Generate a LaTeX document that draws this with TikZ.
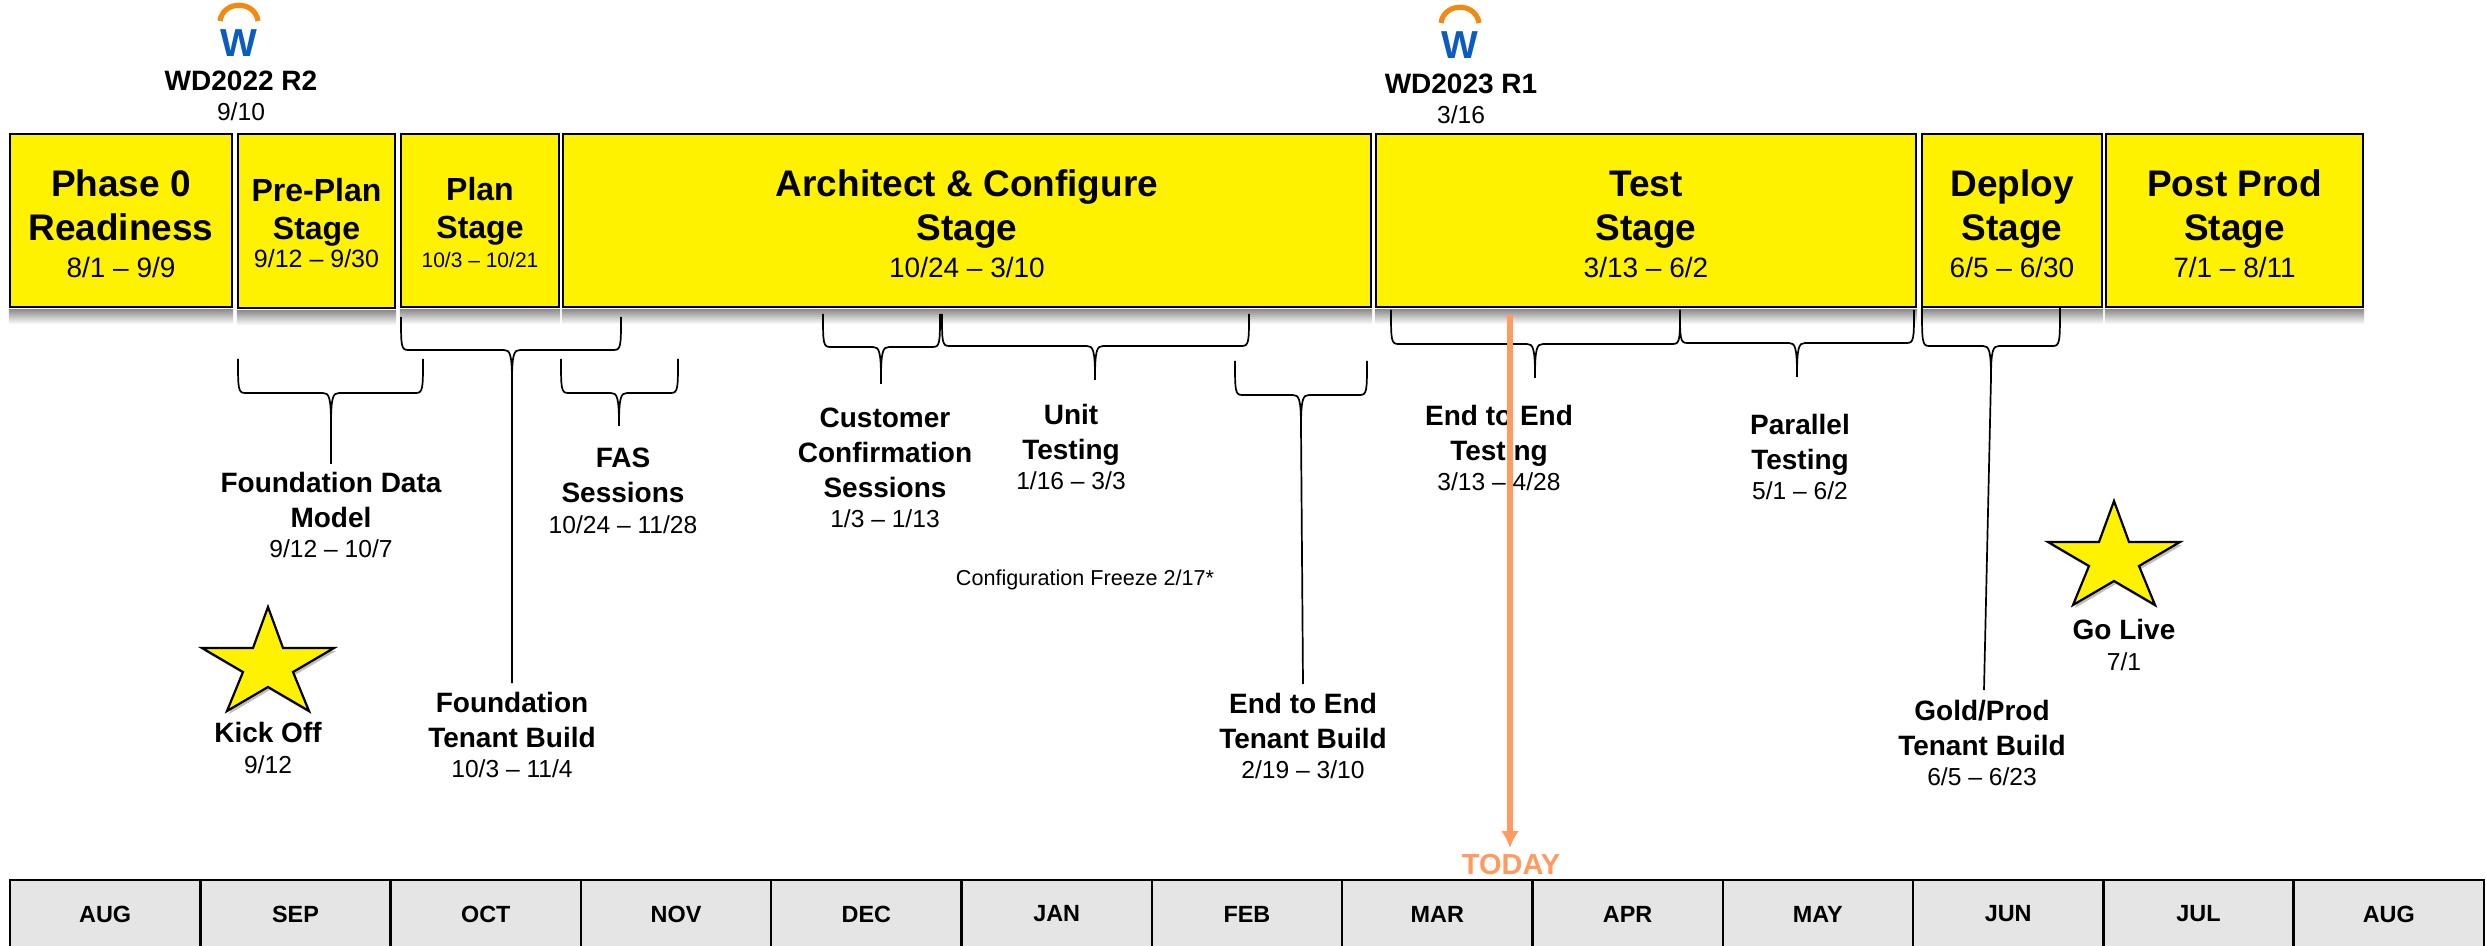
\documentclass[tikz,border=0pt]{standalone}
\usepackage{fontspec}
\setmainfont{Liberation Sans}
\usetikzlibrary{shadows,arrows.meta}
\definecolor{stageyellow}{HTML}{FFF200}
\definecolor{todayorange}{HTML}{FF9A60}
\definecolor{wdblue}{HTML}{0A5CBE}
\definecolor{wdorange}{HTML}{F18A12}
\newcommand{\datetext}[1]{\\[-2.3pt]{\fontsize{12.3}{14}\selectfont\mdseries #1}}
\newcommand{\stagedate}[3][-3.8pt]{\\[#1]{\fontsize{#2}{16}\selectfont\mdseries #3}}
\newcommand{\bigtop}{\rule{0pt}{16.5pt}}
\newcommand{\smalltop}{\rule{0pt}{13.5pt}}
\newcommand{\taskbrace}[6]{\draw[bracket] (#1,#3) .. controls (#1,#4-5) and (#1,#4) .. (#1+7,#4) -- (#5-8,#4) .. controls (#5-2,#4) and (#5,#4+4) .. (#5,#4+32) -- (#6) (#5,#4+32) .. controls (#5,#4+4) and (#5+2,#4) .. (#5+8,#4) -- (#2-7,#4) .. controls (#2,#4) and (#2,#4-5) .. (#2,#3);}
\newcommand{\taskstar}[2]{\draw[milestone,shift={(#1,#2)}] (0,0)--(15,41)--(66,41)--(25,65)--(41,104)--(0,80)--(-41,104)--(-25,65)--(-66,41)--(-15,41)--cycle;}
\newcommand{\wdlogo}[3]{\draw[line width=2.6pt,wdorange] (#2-19,#3+15) .. controls (#2-16,#3-6) and (#2+16,#3-6) .. (#2+19,#3+15);
        \node[font=\fontsize{19.5}{22}\selectfont\bfseries,text=wdblue,inner sep=0pt] (#1) at (#2,#3+37) {W};}
\tikzset{
    stagebox/.style 2 args={draw=black,line width=1.2pt,fill=stageyellow,align=center,inner sep=0pt,minimum width=#1*0.5pt,minimum height=#2*0.5pt},
    stagebig/.style={font=\fontsize{18.5}{22.3}\selectfont\bfseries},
    stagesmall/.style={font=\fontsize{16}{19}\selectfont\bfseries},
    stageshadow/.style={top color=black!45,bottom color=white},
    tasklabel/.style={align=center,inner sep=0pt,font=\fontsize{14}{17.5}\selectfont\bfseries},
    monthcell/.style={draw=black,line width=1.2pt,fill=black!10,inner sep=0pt,minimum width=95.15pt,minimum height=34pt,font=\fontsize{11.7}{14}\selectfont\bfseries},
    bracket/.style={line width=0.85pt,black},
    milestone/.style={line width=1.1pt,draw=black,fill=stageyellow,drop shadow={shadow xshift=1pt,shadow yshift=-1.5pt,opacity=0.25,fill=black}}
}
\begin{document}
\begin{tikzpicture}[x=0.5pt,y=-0.5pt]
        \useasboundingbox (0,0) rectangle (2486,946);
        \node[stagebox={222}{173},stagebig] (phase) at (121,220.5) {\bigtop Phase 0\\Readiness\stagedate{14}{8/1 – 9/9}};
        \node[stagebox={157}{174},stagesmall] (preplan) at (316.5,221) {\smalltop Pre-Plan\\Stage\stagedate[-4.8pt]{12.5}{9/12 – 9/30}};
        \node[stagebox={158}{173},stagesmall] (plan) at (480,220.5) {\smalltop Plan\\Stage\stagedate[-4.8pt]{10.5}{10/3 – 10/21}};
        \node[stagebox={808}{173},stagebig] (architect) at (967,220.5) {\bigtop Architect \& Configure\\Stage\stagedate{14}{10/24 – 3/10}};
        \node[stagebox={540}{173},stagebig] (test) at (1646,220.5) {\bigtop Test\\Stage\stagedate{14}{3/13 – 6/2}};
        \node[stagebox={180}{173},stagebig] (deploy) at (2012,220.5) {\bigtop Deploy\\Stage\stagedate{14}{6/5 – 6/30}};
        \node[stagebox={257}{173},stagebig] (postprod) at (2234.5,220.5) {\bigtop Post Prod\\Stage\stagedate{14}{7/1 – 8/11}};
        \foreach \s in {phase,preplan,plan,architect,test,deploy,postprod} {
            \shade[stageshadow] ([yshift=-0.6pt]\s.south west) rectangle ([yshift=-8pt]\s.south east);
        }
        \wdlogo{logoa}{239}{6}
        \wdlogo{logob}{1460}{8}
        \node[tasklabel] (wdtwo) at (241,96) {WD2022 R2\datetext{9/10}};
        \node[tasklabel] (wdone) at (1461,99) {WD2023 R1\datetext{3/16}};
        \node[tasklabel] (fdm) at (331,515) {Foundation Data\\Model\datetext{9/12 – 10/7}};
        \node[tasklabel] (fas) at (623,491) {FAS\\Sessions\datetext{10/24 – 11/28}};
        \node[tasklabel] (customer) at (885,468) {Customer\\Confirmation\\Sessions\datetext{1/3 – 1/13}};
        \node[tasklabel] (unit) at (1071,447) {Unit\\Testing\datetext{1/16 – 3/3}};
        \node[font=\fontsize{10.8}{13}\selectfont,inner sep=0pt] (freeze) at (1085,580) {Configuration Freeze 2/17*};
        \node[tasklabel] (etebuild) at (1303,736) {End to End\\Tenant Build\datetext{2/19 – 3/10}};
        \node[tasklabel] (ftbuild) at (512,735) {Foundation\\Tenant Build\datetext{10/3 – 11/4}};
        \node[tasklabel] (etetest) at (1499,448) {End to End\\Testing\datetext{3/13 – 4/28}};
        \node[tasklabel] (parallel) at (1800,457) {Parallel\\Testing\datetext{5/1 – 6/2}};
        \node[tasklabel] (goldprod) at (1982,743) {Gold/Prod\\Tenant Build\datetext{6/5 – 6/23}};
        \node[tasklabel] (kickoff) at (268,748) {Kick Off\datetext{9/12}};
        \node[tasklabel] (golive) at (2124,645) {Go Live\datetext{7/1}};
        \taskstar{268}{607}
        \taskstar{2114}{501}
        \coordinate (fdmend) at (331,464);
        \coordinate (ftend) at (512,683);
        \coordinate (fasend) at (619,426);
        \coordinate (customerend) at (881,384);
        \coordinate (unitend) at (1095,380);
        \coordinate (ebuildend) at (1303,684);
        \coordinate (etestend) at (1535,378);
        \coordinate (parallelend) at (1797,377);
        \coordinate (goldend) at (1984,690);
        \taskbrace{238}{423}{359}{393}{331}{fdmend}
        \taskbrace{401}{621}{317}{350}{512}{ftend}
        \taskbrace{561}{678}{359}{393}{619}{fasend}
        \taskbrace{823}{940}{314}{347}{881}{customerend}
        \taskbrace{942}{1249}{314}{346}{1095}{unitend}
        \taskbrace{1235}{1367}{361}{395}{1301}{ebuildend}
        \taskbrace{1391}{1680}{310}{344}{1535}{etestend}
        \taskbrace{1680}{1914}{310}{343}{1797}{parallelend}
        \taskbrace{1922}{2060}{307}{346}{1991}{goldend}
        \foreach \mon [count=\i from 0] in {AUG,SEP,OCT,NOV,DEC,JAN,FEB,MAR,APR,MAY,JUN,JUL,AUG} {
            \node[monthcell] (month\i) at ({105.15+\i*190.3},914) {\mon};
        }
        \node[font=\fontsize{14.5}{16}\selectfont\bfseries,text=todayorange,inner sep=0pt] (today) at (1511,865) {TODAY};
        \coordinate (todaytop) at (1510,315);
        \coordinate (todaytip) at (1510,848);
        \draw[line width=3pt,todayorange,-{Latex[length=8.5pt,width=9pt]}] (todaytop) -- (todaytip);
    \end{tikzpicture}
\end{document}
